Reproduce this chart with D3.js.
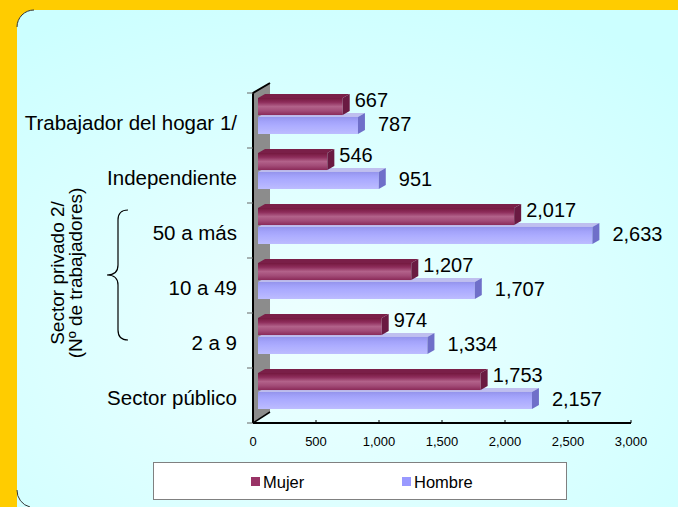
<!DOCTYPE html>
<html>
<head>
<meta charset="utf-8">
<script src="https://cdn.jsdelivr.net/npm/d3@7"></script>
<style>
  html, body { margin: 0; padding: 0; background: #FFCC00; }
  svg { display: block; font-family: "Liberation Sans", Arial, sans-serif; }
</style>
</head>
<body>
<svg id="chart" width="678" height="507"></svg>
<script>
// data
const categories = ["Trabajador del hogar 1/", "Independiente", "50 a más", "10 a 49", "2 a 9", "Sector público"];
const series = ["Mujer", "Hombre"];
const mujer = [667, 546, 2017, 1207, 974, 1753];
const hombre = [787, 951, 2633, 1707, 1334, 2157];
const xTicks = [0, 500, 1000, 1500, 2000, 2500, 3000];

const width = 678, height = 507;
const svg = d3.select("#chart");
const defs = svg.append("defs");

// background panel
const bg = defs.append("radialGradient").attr("id", "bgGrad")
    .attr("cx", "0.42").attr("cy", "0.62").attr("r", "0.7");
bg.append("stop").attr("offset", "0").attr("stop-color", "#EEFFFF");
bg.append("stop").attr("offset", "1").attr("stop-color", "#CCFFFF");

svg.append("rect")
    .attr("x", 17).attr("y", 10)
    .attr("width", 720).attr("height", 520)
    .attr("rx", 17).attr("ry", 17)
    .attr("fill", "url(#bgGrad)");

// dark outline on the rounded corners only
svg.append("path")
    .attr("d", "M17,27 A17,17 0 0 1 34,10 M17,490 A17,17 0 0 0 30,507")
    .attr("fill", "none").attr("stroke", "#333").attr("stroke-width", 1);

// bar gradients
const colors = {
    Mujer: { stops: ["#74193F", "#8E2D5B", "#B2628A", "#A24B77", "#8A2A58"], end: "#6A1A42", top: "#7A1F48" },
    Hombre: { stops: ["#9494EC", "#A2A2FA", "#ACACFF", "#B4B4FF", "#BDBDFF"], end: "#6F6FC9", top: "#BFBFEF" }
};
series.forEach(s => {
    const g = defs.append("linearGradient").attr("id", "grad" + s)
        .attr("x1", 0).attr("y1", 0).attr("x2", 0).attr("y2", 1);
    colors[s].stops.forEach((c, i) => {
        g.append("stop").attr("offset", i / (colors[s].stops.length - 1)).attr("stop-color", c);
    });
});

// scales
const plotTop = 93, plotBottom = 423;
const x = d3.scaleLinear().domain([0, 3000]).range([253, 631]);
const xb = d3.scaleLinear().domain([0, 3000]).range([258, 639]);
const y = d3.scaleBand().domain(categories).range([plotTop, plotBottom]);
const ySub = d3.scaleBand().domain(series).range([5, 41]).paddingInner(0.1);
const dx = 7, dy = 4;

// back wall
svg.append("path")
    .attr("d", `M${x(0)},${plotTop} L${x(0) + 17},${plotTop - 10} L${x(0) + 17},${plotBottom - 11} L${x(0)},${plotBottom} Z`)
    .attr("fill", "#8C8C8C");
svg.append("path")
    .attr("d", `M${x(0)},${plotBottom} L${x(0)},${plotTop} L${x(0) + 17},${plotTop - 10}`)
    .attr("fill", "none").attr("stroke", "#000").attr("stroke-width", 2);
svg.append("path")
    .attr("d", `M${x(0)},${plotBottom} L${x(0) + 17},${plotBottom - 11}`)
    .attr("fill", "none").attr("stroke", "#000").attr("stroke-width", 1.5);

// category ticks on the left edge
svg.append("g").selectAll("line")
    .data(categories.concat(["end"]))
    .join("line")
    .attr("x1", x(0) - 6).attr("x2", x(0))
    .attr("y1", (d, i) => plotTop + i * y.step())
    .attr("y2", (d, i) => plotTop + i * y.step())
    .attr("stroke", "#666").attr("stroke-width", 1);

// bars (Hombre drawn first so Mujer sits on top)
const rows = categories.map((c, i) => ({ cat: c, Mujer: mujer[i], Hombre: hombre[i] }));
const drawOrder = ["Hombre", "Mujer"];

rows.forEach(r => {
    drawOrder.forEach(s => {
        const x0 = xb(0), x1 = xb(r[s]);
        const yt = y(r.cat) + ySub(s), h = ySub.bandwidth();
        const g = svg.append("g");
        g.append("path")
            .attr("d", `M${x0},${yt} L${x0 + dx},${yt - dy} L${x1 + dx},${yt - dy} L${x1},${yt} Z`)
            .attr("fill", colors[s].top);
        g.append("rect")
            .attr("x", x0).attr("y", yt)
            .attr("width", x1 - x0).attr("height", h)
            .attr("fill", `url(#grad${s})`);
        g.append("path")
            .attr("d", `M${x1},${yt} L${x1 + dx},${yt - dy} L${x1 + dx},${yt + h - dy} L${x1},${yt + h} Z`)
            .attr("fill", colors[s].end);
    });
});

// value labels
const fmt = d3.format(",");
rows.forEach(r => {
    svg.append("text")
        .attr("x", xb(r.Mujer) + dx + 5)
        .attr("y", y(r.cat) + 7)
        .attr("dy", "0.35em")
        .style("font-size", "20px")
        .text(fmt(r.Mujer));
    svg.append("text")
        .attr("x", xb(r.Hombre) + dx + 13)
        .attr("y", y(r.cat) + 31)
        .attr("dy", "0.35em")
        .style("font-size", "20px")
        .text(fmt(r.Hombre));
});

// category labels
svg.append("g").selectAll("text")
    .data(categories)
    .join("text")
    .attr("x", 237)
    .attr("y", d => y(d) + y.bandwidth() / 2 + 2)
    .attr("dy", "0.35em")
    .attr("text-anchor", "end")
    .style("font-size", "20.5px")
    .text(d => d);

// x axis
svg.append("line")
    .attr("x1", x(0)).attr("x2", x(3000))
    .attr("y1", plotBottom).attr("y2", plotBottom)
    .attr("stroke", "#000").attr("stroke-width", 2);
svg.append("g").selectAll("line")
    .data(xTicks)
    .join("line")
    .attr("x1", d => x(d)).attr("x2", d => x(d))
    .attr("y1", plotBottom).attr("y2", plotBottom - 3)
    .attr("stroke", "#000");
svg.append("g").selectAll("text")
    .data(xTicks)
    .join("text")
    .attr("x", d => x(d))
    .attr("y", 441)
    .attr("dy", "0.35em")
    .attr("text-anchor", "middle")
    .style("font-size", "13px")
    .text(d => fmt(d));

// vertical group title + brace
const title = svg.append("text")
    .attr("transform", "translate(64,273) rotate(-90)")
    .attr("text-anchor", "middle")
    .style("font-size", "19px");
title.append("tspan").attr("x", 0).attr("y", 0).text("Sector privado 2/");
title.append("tspan").attr("x", 0).attr("y", 18).text("(Nº de trabajadores)");

svg.append("path")
    .attr("d", "M128,210 Q118,210 118,220 L118,265 Q118,275 107,275 Q118,275 118,285 L118,330 Q118,340 128,340")
    .attr("fill", "none").attr("stroke", "#000").attr("stroke-width", 1.2);

// legend
svg.append("rect")
    .attr("x", 153.5).attr("y", 462.5)
    .attr("width", 413).attr("height", 37)
    .attr("fill", "#fff").attr("stroke", "#808080");
const legendX = { Mujer: 251, Hombre: 402 };
series.forEach(s => {
    svg.append("rect")
        .attr("x", legendX[s]).attr("y", 477)
        .attr("width", 9).attr("height", 9)
        .attr("fill", s === "Mujer" ? "#993366" : "#9999FF");
    svg.append("text")
        .attr("x", legendX[s] + 12).attr("y", 482)
        .attr("dy", "0.35em")
        .style("font-size", "16.5px")
        .text(s);
});
</script>
</body>
</html>
